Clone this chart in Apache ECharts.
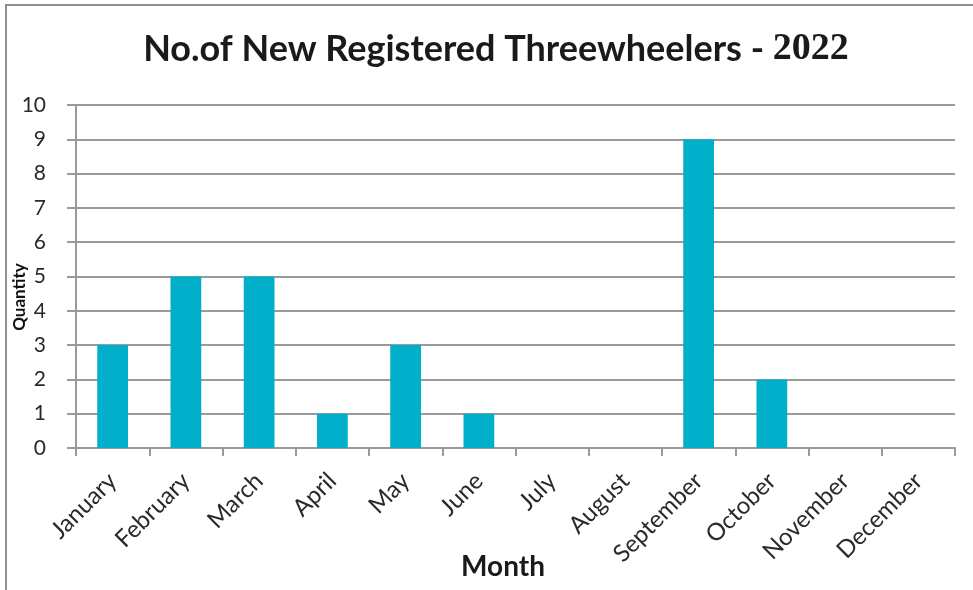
<!DOCTYPE html>
<html><head><meta charset="utf-8">
<script src="https://cdn.jsdelivr.net/npm/echarts@6/dist/echarts.min.js"></script>
<style>html,body{margin:0;padding:0;background:#fff}#c{width:973px;height:590px}</style>
</head><body><div id="c"></div>
<script>
const months = ['January','February','March','April','May','June','July','August','September','October','November','December'];
const quantities = [3,5,5,1,3,1,0,0,9,2,0,0];
const yTicks = [0,1,2,3,4,5,6,7,8,9,10];

const chart = echarts.init(document.getElementById('c'));
chart.setOption({
  animation: false,
  backgroundColor: '#fff',
  grid: {left: 76, right: 18, top: 105, bottom: 142, containLabel: false},
  title: {
    text: '{a|No.of New Registered Threewheelers - }{b|2022}',
    left: 491, top: 25, textAlign: 'center',
    textStyle: {
      rich: {
        a: {fontFamily: 'Lato', fontWeight: 'bold', fontSize: 36, color: '#1a1a1a'},
        b: {fontFamily: 'Liberation Serif', fontWeight: 'bold', fontSize: 38, color: '#1a1a1a'}
      }
    }
  },
  xAxis: {
    type: 'category', data: months,
    axisLine: {lineStyle: {color: '#9a9a9a', width: 2}},
    axisTick: {show: true, length: 8, lineStyle: {color: '#9a9a9a', width: 2}},
    axisLabel: {rotate: 45, fontFamily: 'Lato', fontSize: 24, color: '#2a2a2a', margin: 29, interval: 0}
  },
  yAxis: {
    type: 'value', min: yTicks[0], max: yTicks[yTicks.length-1], interval: 1,
    axisLine: {show: true, lineStyle: {color: '#9a9a9a', width: 2}},
    axisTick: {show: true, length: 9, lineStyle: {color: '#9a9a9a', width: 2}},
    splitLine: {lineStyle: {color: '#9a9a9a', width: 2}},
    axisLabel: {fontFamily: 'Lato', fontSize: 21, color: '#2a2a2a', margin: 30}
  },
  series: [{
    type: 'bar', data: quantities, barWidth: '42%',
    itemStyle: {color: '#02AFCA'}
  }],
  graphic: [
    {type: 'rect', shape: {x: 6, y: 5, width: 1000, height: 620}, style: {fill: 'none', stroke: '#8f8f8f', lineWidth: 2}, z: -1},
    {type: 'text', x: 20, y: 297, rotation: Math.PI/2, style: {text: 'Quantity', fontFamily: 'Lato', fontWeight: 'bold', fontSize: 17, fill: '#111', textAlign: 'center', textVerticalAlign: 'middle'}},
    {type: 'text', x: 503, y: 567, style: {text: 'Month', fontFamily: 'Lato', fontWeight: 'bold', fontSize: 28, fill: '#1a1a1a', textAlign: 'center', textVerticalAlign: 'middle'}}
  ]
});
</script></body></html>
